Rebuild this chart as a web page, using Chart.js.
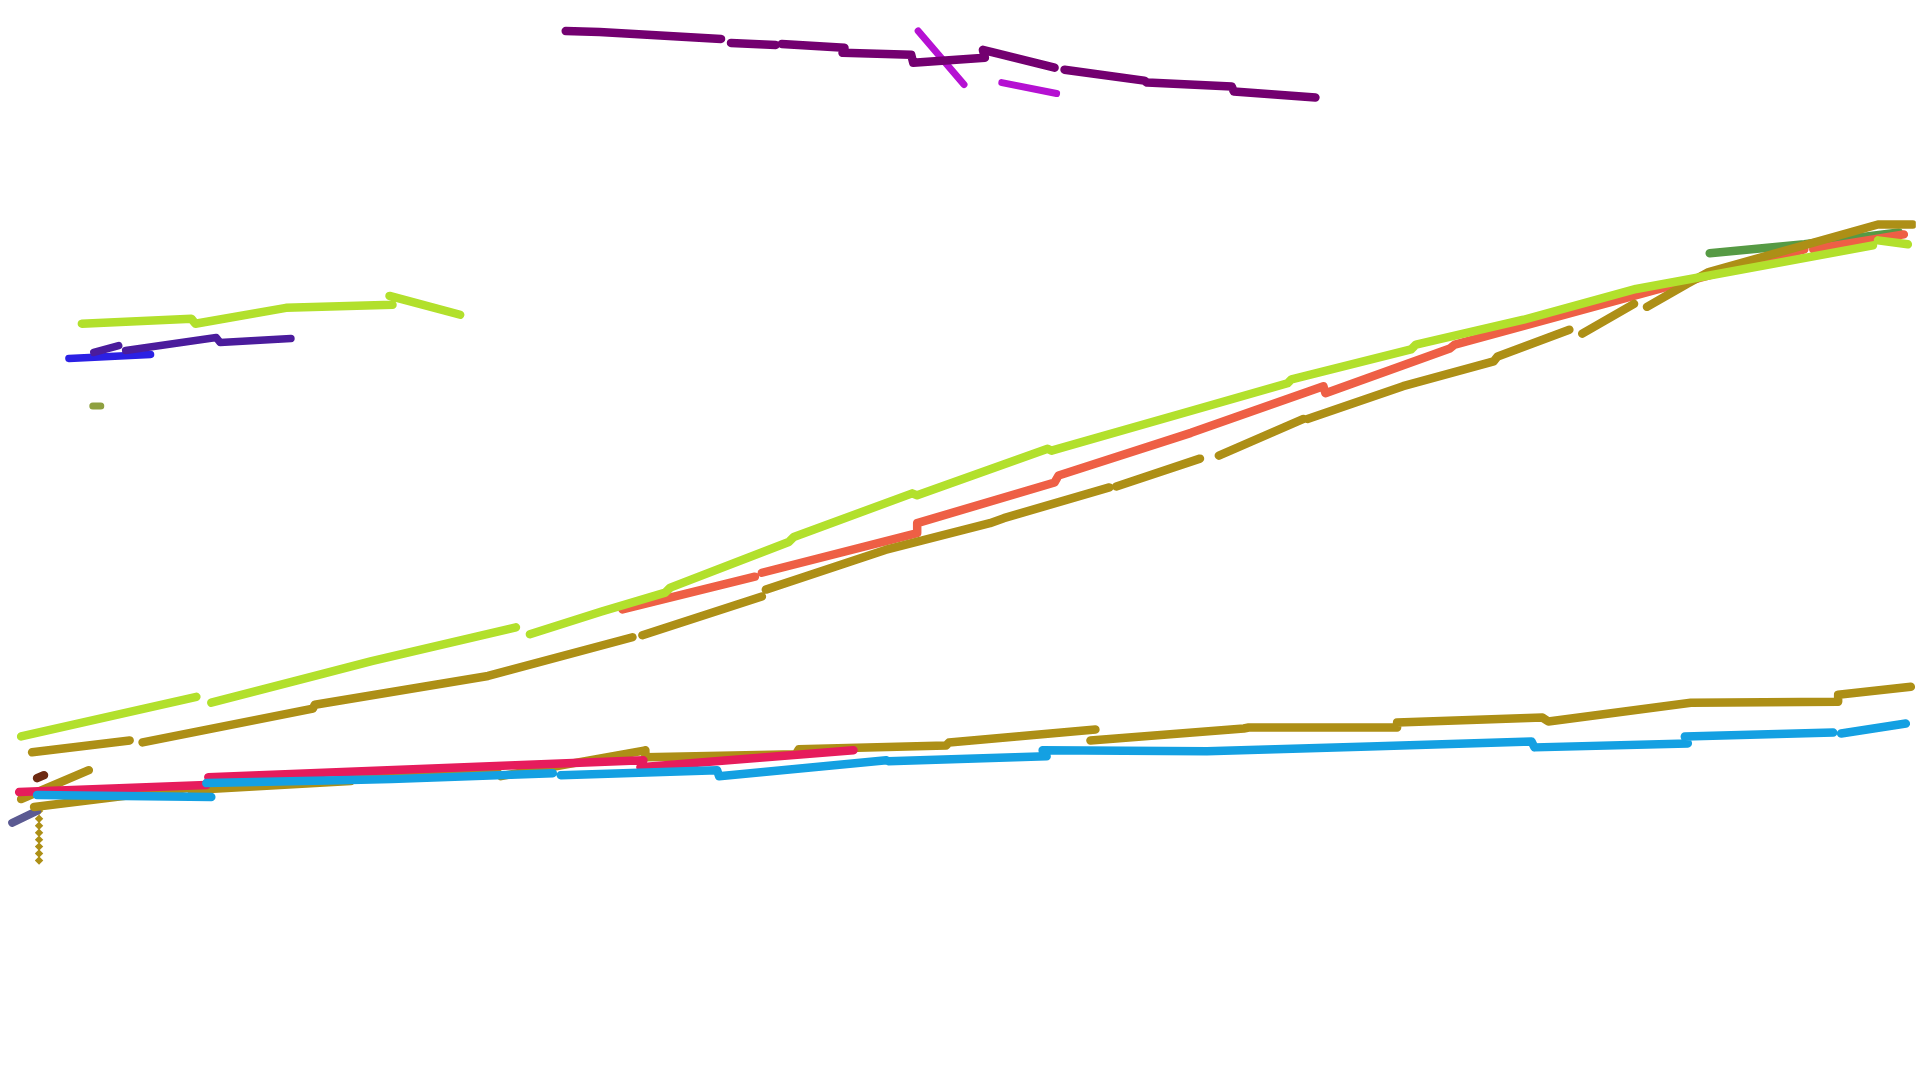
<!DOCTYPE html>
<html>
<head>
<meta charset="utf-8">
<title>Strokes</title>
<script src="https://cdn.jsdelivr.net/npm/chart.js@4"></script>
<style>
    body { margin: 0; background: #ffffff; }
    #wrap { width: 1920px; height: 1080px; }
</style>
</head>
<body>
<div id="wrap"><canvas id="strokes" width="1920" height="1080"></canvas></div>
<script>
// axis range (unitless, y grows downwards)
var xRange = [0, 1920];
var yRange = [0, 1080];

// each series: [x, y] pairs, null = break in the stroke
var limeMain = [[17,738],[193,698],null,[208,704],[312,677],[369,662],[514,628],null,
    [528,635],[600,612],[664,593],[669,588],[788,542],[793,537],[912,493],[917,495],
    [1048,448],[1052,450],[1181,413],[1289,382],[1293,378],[1413,348],[1418,343],
    [1526,318],[1639,287],[1877,243],null,[1882,238],[1912,242]];
var orangeMain = [[621,610],[754,577],null,[761,573],[917,533],[917,523],[1055,482],
    [1059,475],[1192,432],[1325,385],[1327,392],[1452,347],[1457,343],[1808,247],null,
    [1817,247],[1908,232]];
var goldMain = [[28,754],[126,742],null,[139,744],[310,710],[312,706],[486,677],[631,638],null,
    [641,636],[761,597],null,[765,590],[885,550],[990,523],[1004,518],[1110,487],null,
    [1117,486],[1201,458],null,[1220,455],[1305,418],null,[1309,418],[1405,385],[1496,360],
    [1500,355],[1572,328],null,[1585,332],[1637,302],null,[1650,305],[1690,282],[1712,270],
    [1882,222],[1917,222]];
var greenTip = [[1713,251],[1808,242],[1903,230]];

var crimsonLow = [[15,794],[203,787],null,[205,779],[642,762],null,[639,769],[853,752]];
var blueLow = [[33,797],[208,799],null,[203,785],[348,782],[389,781],[551,775],null,
    [559,777],[716,772],[718,778],[886,762],null,[888,763],[1047,758],null,[1043,752],
    [1208,753],[1371,748],[1534,743],[1537,749],[1691,745],[1688,738],[1837,734],null,
    [1845,735],[1910,725]];
var goldLow = [[30,809],[185,790],[188,792],[348,783],[348,776],[493,772],[499,778],[644,752],
    [644,759],[795,756],[798,751],[946,747],[949,744],[1096,731],null,[1091,742],[1245,730],
    [1250,729],[1399,729],[1399,724],[1545,719],[1551,723],[1694,704],[1842,703],[1842,696],
    [1915,688]];
var goldShort = [[17,801],[85,772]];
var brownTick = [[33,780],[40,777]];
var slateTick = [[8,825],[33,813]];
var goldDots = [[35,813],[35,821],[35,828],[35,835],[35,842],[35,849],[35,856],[35,863]];

var limeTop = [[78,322],[188,317],[192,322],[283,306],[390,303],null,[387,294],[458,313]];
var indigoTop = [[90,351],[115,344],null,[122,349],[213,336],[217,341],[288,337]];
var blueTop = [[65,357],[147,353]];
var oliveDot = [[89,405],[97,405]];

var purpleTop = [[564,27],[598,28],[720,35],null,[730,39],[775,41],null,[781,40],[844,44],
    [842,49],[911,51],[913,59],[985,54],[983,46],[1055,64],null,[1065,66],[1145,77],
    [1148,79],[1233,83],[1235,88],[1317,94]];
var magentaTop = [[918,27],[964,81],null,[1002,79],[1057,90]];

function toPoints(pairs) {
    var out = [];
    var lastX = 0;
    pairs.forEach(function (p) {
        if (p === null) {
            out.push({ x: lastX, y: null });
        } else {
            lastX = p[0];
            out.push({ x: p[0], y: p[1] });
        }
    });
    return out;
}

function stroke(pairs, color, width) {
    return {
        data: toPoints(pairs),
        borderColor: color,
        backgroundColor: color,
        borderWidth: width,
        borderCapStyle: 'round',
        borderJoinStyle: 'round',
        pointRadius: 0,
        tension: 0,
        spanGaps: false
    };
}

var dots = stroke(goldDots, '#ad8f16', 0);
dots.showLine = false;
dots.pointRadius = 4.2;
dots.pointStyle = 'rectRot';

var datasets = [
    stroke(limeMain, '#b2e02c', 8.5),
    stroke(goldMain, '#ad8f16', 8.5),
    stroke(orangeMain, '#ee5f45', 8.5),
    stroke(greenTip, '#569a44', 8.5),
    stroke(blueLow, '#14a0e2', 8.5),
    stroke(crimsonLow, '#e61c5c', 8.5),
    stroke(goldLow, '#ad8f16', 8.5),
    stroke(goldShort, '#ad8f16', 8.5),
    stroke(brownTick, '#6e2a12', 8.5),
    stroke(slateTick, '#5b5a92', 8),
    dots,
    stroke(limeTop, '#b2e02c', 8.5),
    stroke(indigoTop, '#4b1c9c', 7.5),
    stroke(blueTop, '#2b20e4', 7.5),
    stroke(oliveDot, '#8ea040', 7),
    stroke(purpleTop, '#730070', 8.5),
    stroke(magentaTop, '#b511d2', 7)
];

new Chart(document.getElementById('strokes').getContext('2d'), {
    type: 'line',
    data: { datasets: datasets },
    options: {
        responsive: false,
        animation: false,
        layout: { padding: 0 },
        plugins: { legend: { display: false }, tooltip: { enabled: false } },
        scales: {
            x: { type: 'linear', display: false, min: xRange[0], max: xRange[1] },
            y: { type: 'linear', display: false, reverse: true, min: yRange[0], max: yRange[1] }
        }
    }
});
</script>
</body>
</html>
